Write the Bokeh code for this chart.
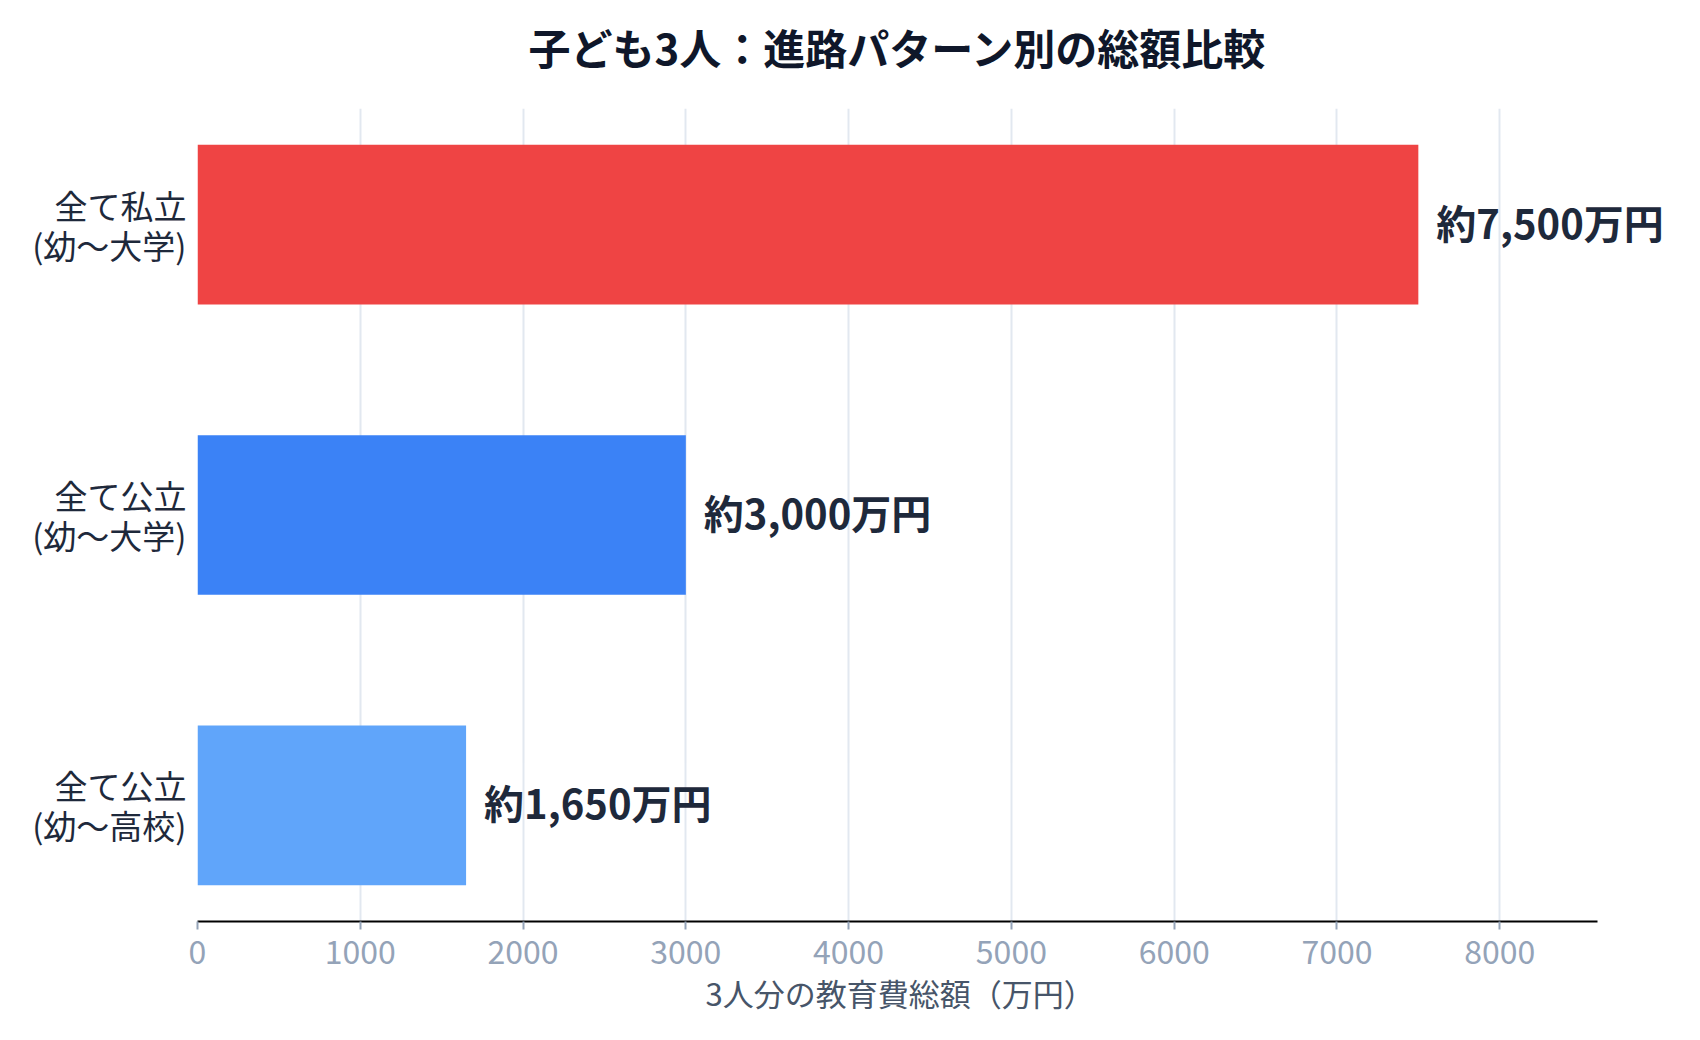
from bokeh.plotting import figure, ColumnDataSource
from bokeh.models import FactorRange, Range1d, LabelSet, FixedTicker, Title
from bokeh.core.properties import value
from bokeh.embed import file_html
from bokeh.resources import INLINE

# data
patterns = ['全て私立\n(幼～大学)', '全て公立\n(幼～大学)', '全て公立\n(幼～高校)']
totals = [7500, 3000, 1650]          # 万円
bar_colors = ['#ef4444', '#3b82f6', '#60a5fa']
x_ticks = [0, 1000, 2000, 3000, 4000, 5000, 6000, 7000, 8000]

title_text = '子ども3人：進路パターン別の総額比較'
x_title = '3人分の教育費総額（万円）'

FONT = "'Noto Sans CJK JP', 'Noto Sans', sans-serif"

source = ColumnDataSource(data={
    'pattern': patterns,
    'total': totals,
    'color': bar_colors,
    'label': ['約{:,}万円'.format(v) for v in totals],
})

p = figure(
    width=1684, height=1024,
    y_range=FactorRange(*patterns[::-1], range_padding=-0.1, range_padding_units='absolute'),
    # frame runs past the axis end so the value labels are not clipped
    x_range=Range1d(0, 9000),
    output_backend='svg',
    toolbar_location=None,
    min_border_left=197, min_border_right=22,
    min_border_top=108, min_border_bottom=103,
)
p.outline_line_color = None
p.background_fill_color = 'white'

p.hbar(y='pattern', right='total', left=0, height=0.55, color='color',
       line_color=None, source=source)

labels = LabelSet(x='total', y='pattern', text='label', source=source,
                  x_offset=18, y_offset=3, text_baseline='middle', text_align='left',
                  text_font=value(FONT), text_font_size='40px', text_font_style='bold',
                  text_color='#1e293b')
p.add_layout(labels)

# title (a tiny blank title underneath it acts as a spacer)
p.title.text = title_text
p.title.align = 'left'
p.title.offset = 331
p.title.standoff = 0
p.title.text_font = FONT
p.title.text_font_size = '42px'
p.title.text_font_style = 'bold'
p.title.text_color = '#0f172a'
p.add_layout(Title(text=' ', text_font_size='1px', standoff=29), 'above')

# x axis
p.xaxis.ticker = FixedTicker(ticks=x_ticks)
p.xaxis.bounds = (0, 8600)
p.xaxis.axis_line_color = 'black'
p.xaxis.axis_line_width = 2
p.xaxis.major_tick_line_color = '#94a3b8'
p.xaxis.major_tick_line_width = 2
p.xaxis.major_tick_out = 8
p.xaxis.major_tick_in = 0
p.xaxis.minor_tick_line_color = None
p.xaxis.major_label_text_font = FONT
p.xaxis.major_label_text_font_size = '32px'
p.xaxis.major_label_text_color = '#94a3b8'
p.xaxis.major_label_standoff = 10

# axis title, centred under the 0-8600 axis rather than the wider frame
p.add_layout(Title(text=x_title, align='left', offset=508, standoff=2,
                   text_font=FONT, text_font_size='31px', text_font_style='normal',
                   text_color='#475569'), 'below')

# y axis
p.yaxis.axis_line_color = None
p.yaxis.major_tick_line_color = None
p.yaxis.minor_tick_line_color = None
p.yaxis.major_label_text_font = FONT
p.yaxis.major_label_text_font_size = '33px'
p.yaxis.major_label_text_color = '#1e293b'
p.yaxis.major_label_text_line_height = 0.83
p.yaxis.major_label_standoff = 5

p.xgrid.grid_line_color = '#e2e8f0'
p.xgrid.grid_line_width = 2
p.ygrid.grid_line_color = None

open("out.html", "w").write(file_html(p, INLINE))
